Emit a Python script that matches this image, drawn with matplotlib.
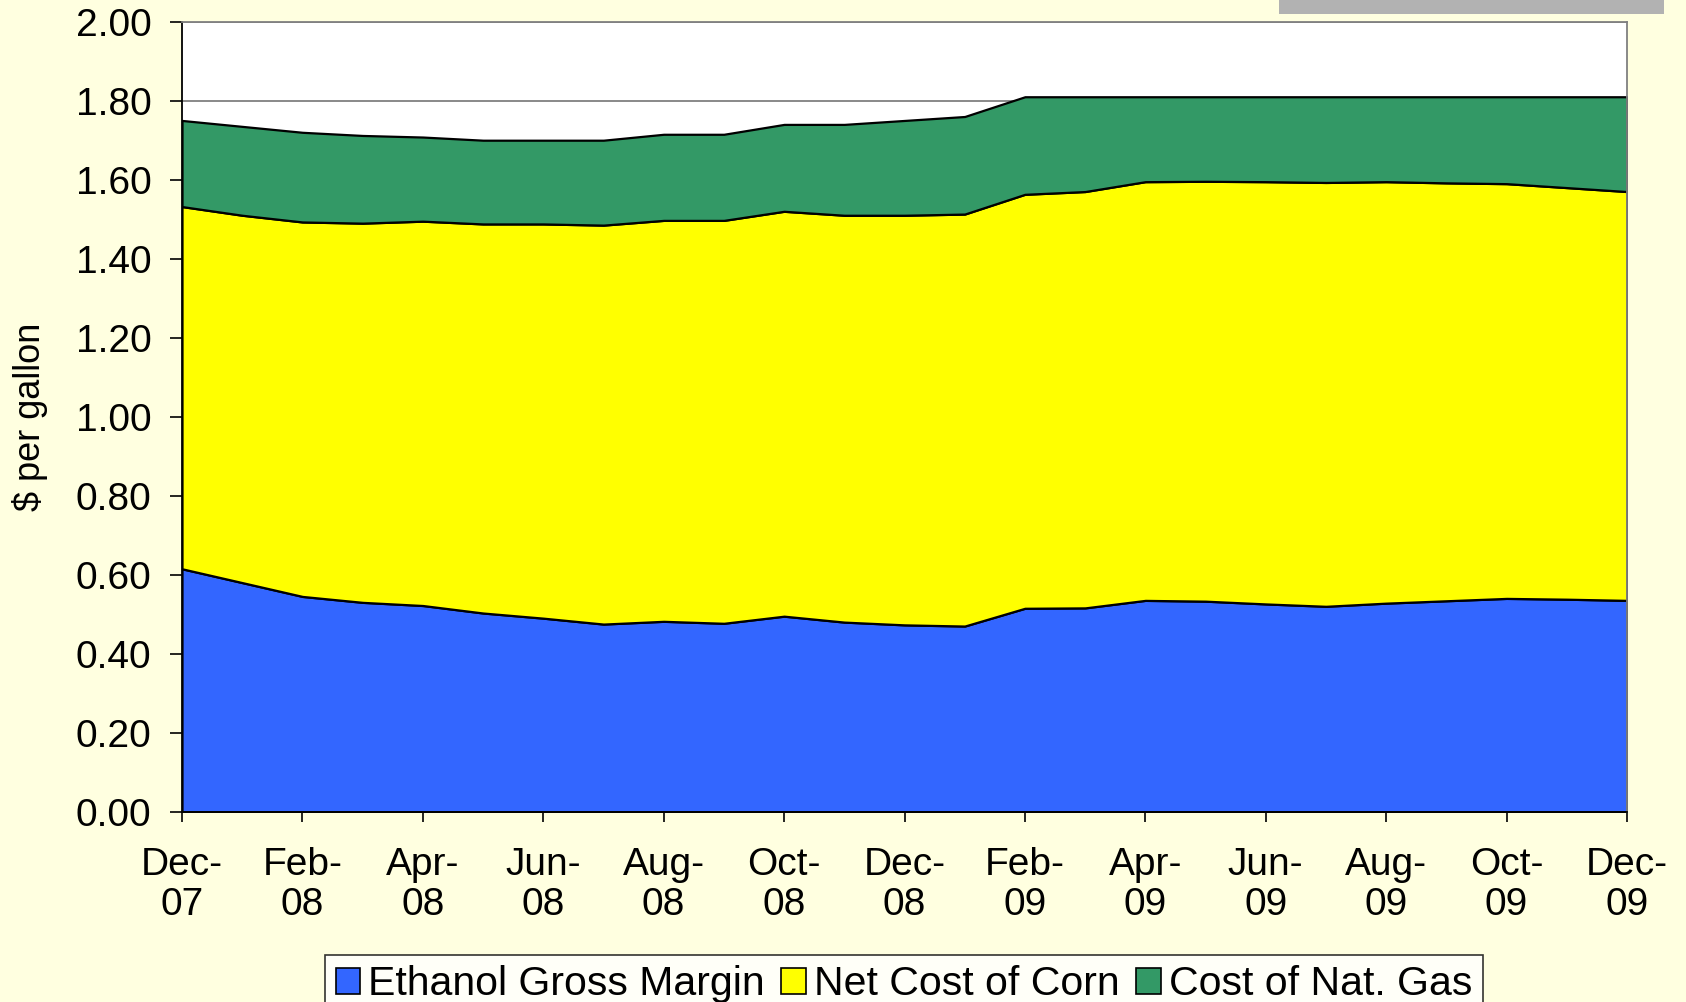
import matplotlib
matplotlib.use("Agg")
import matplotlib.pyplot as plt
from matplotlib.patches import Rectangle, Patch
import numpy as np

plt.rcParams['font.family'] = ['Liberation Sans', 'DejaVu Sans']

tick_labels = ["Dec-\n07", "Feb-\n08", "Apr-\n08", "Jun-\n08", "Aug-\n08", "Oct-\n08", "Dec-\n08",
               "Feb-\n09", "Apr-\n09", "Jun-\n09", "Aug-\n09", "Oct-\n09", "Dec-\n09"]
months = list(range(25))  # Dec-07 .. Dec-09, monthly

ethanol_gross_margin = [0.615, 0.580, 0.545, 0.530, 0.522, 0.503, 0.490, 0.475, 0.482, 0.477,
                        0.495, 0.480, 0.473, 0.470, 0.515, 0.516, 0.535, 0.533, 0.526, 0.520,
                        0.528, 0.534, 0.540, 0.538, 0.535]
net_cost_of_corn = [0.917, 0.930, 0.948, 0.960, 0.973, 0.985, 0.998, 1.010, 1.015, 1.020,
                    1.025, 1.030, 1.037, 1.043, 1.048, 1.054, 1.060, 1.063, 1.069, 1.073,
                    1.067, 1.058, 1.050, 1.042, 1.035]
cost_of_nat_gas = [0.218, 0.225, 0.227, 0.222, 0.213, 0.212, 0.212, 0.215, 0.218, 0.218,
                   0.220, 0.230, 0.240, 0.247, 0.247, 0.240, 0.215, 0.214, 0.215, 0.217,
                   0.215, 0.218, 0.220, 0.230, 0.240]
series_names = ["Ethanol Gross Margin", "Net Cost of Corn", "Cost of Nat. Gas"]
colors = ["#3366FF", "#FFFF00", "#339966"]

W, H = 1686, 1002
fig = plt.figure(figsize=(W / 100, H / 100), dpi=100)
bg = "#FFFFE0"
fig.patch.set_facecolor(bg)

ax = fig.add_axes([182 / W, 1 - 811.7 / H, (1627 - 182) / W, (811.7 - 21.7) / H])
ax.set_facecolor("white")

ax.stackplot(months, ethanol_gross_margin, net_cost_of_corn, cost_of_nat_gas,
             colors=colors, edgecolor="black", linewidth=1.6, zorder=2)

ax.set_xlim(0, 24)
ax.set_ylim(0, 2.0)
ax.set_yticks(np.arange(0, 2.01, 0.2))
ax.set_yticklabels([f"{v:.2f}" for v in np.arange(0, 2.01, 0.2)])
ax.set_xticks(months[::2])
ax.set_xticklabels(tick_labels, linespacing=1.15)
ax.yaxis.grid(True, color="#808080", linewidth=1.3, zorder=0)
ax.set_axisbelow(True)

ax.tick_params(axis="y", direction="out", length=9, width=1.2, pad=13, labelsize=28, colors="black")
ax.tick_params(axis="x", direction="out", length=7.5, width=1.2, pad=18, labelsize=28, colors="black")
for s in ["left", "bottom"]:
    ax.spines[s].set_color("black")
    ax.spines[s].set_linewidth(1.3)
for s in ["top", "right"]:
    ax.spines[s].set_color("#808080")
    ax.spines[s].set_linewidth(1.3)

ax.set_ylabel("$ per gallon", fontsize=26)
ax.yaxis.set_label_coords(-0.093, 0.5)

handles = [Patch(facecolor=c, edgecolor="black", linewidth=1.2) for c in colors]
leg = fig.legend(handles, series_names, loc="upper center", bbox_to_anchor=(904 / W, 1 - 955 / H),
                 ncol=3, fontsize=29.5, frameon=True, fancybox=False, handlelength=0.6,
                 handleheight=0.6, handletextpad=0.2, columnspacing=0.4, borderpad=0.25,
                 borderaxespad=0)
leg.get_frame().set_edgecolor("black")
leg.get_frame().set_linewidth(1.2)
leg.get_frame().set_facecolor("white")

fig.patches.append(Rectangle((1279 / W, 1 - 14 / H), 385 / W, 14 / H, transform=fig.transFigure,
                             facecolor="#B2B2B2", edgecolor="none"))

fig.savefig("out.png", dpi=100, facecolor=bg)
